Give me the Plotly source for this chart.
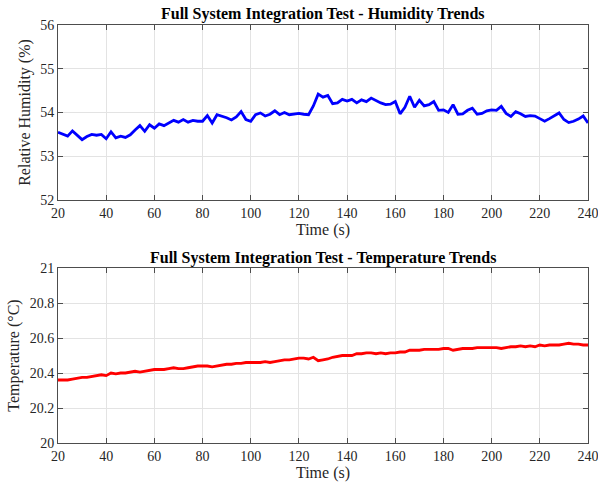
import plotly.graph_objects as go

time_s = list(range(20, 241, 2))

humidity = [
    53.55, 53.50, 53.46, 53.58, 53.48, 53.38, 53.45, 53.50, 53.48, 53.50,
    53.40, 53.56, 53.42, 53.46, 53.43, 53.49, 53.60, 53.70, 53.57, 53.72,
    53.64, 53.74, 53.70, 53.76, 53.82, 53.78, 53.84, 53.78, 53.82, 53.80,
    53.80, 53.93, 53.76, 53.95, 53.92, 53.88, 53.83, 53.90, 54.02, 53.84,
    53.80, 53.95, 53.99, 53.92, 53.96, 54.04, 53.95, 54.00, 53.95, 53.97,
    53.98, 53.96, 53.95, 54.15, 54.42, 54.35, 54.39, 54.20, 54.22, 54.30,
    54.26, 54.30, 54.22, 54.29, 54.25, 54.33, 54.27, 54.22, 54.18, 54.19,
    54.25, 53.97, 54.12, 54.37, 54.12, 54.28, 54.15, 54.18, 54.25, 54.05,
    54.06, 54.00, 54.18, 53.96, 53.97, 54.05, 54.10, 53.96, 53.98, 54.04,
    54.06, 54.05, 54.14, 53.98, 53.91, 54.02, 53.97, 53.91, 53.93, 53.92,
    53.86, 53.80, 53.86, 53.92, 53.99, 53.84, 53.77, 53.80, 53.85, 53.92,
    53.76,
]

temperature = [
    20.36, 20.36, 20.36, 20.365, 20.37, 20.375, 20.375, 20.38, 20.385, 20.39,
    20.385, 20.40, 20.395, 20.40, 20.40, 20.405, 20.41, 20.405, 20.41, 20.415,
    20.42, 20.42, 20.42, 20.425, 20.43, 20.425, 20.425, 20.43, 20.435, 20.44,
    20.44, 20.44, 20.435, 20.44, 20.445, 20.45, 20.45, 20.455, 20.455, 20.46,
    20.46, 20.46, 20.46, 20.465, 20.46, 20.465, 20.47, 20.475, 20.475, 20.48,
    20.485, 20.485, 20.48, 20.49, 20.47, 20.475, 20.48, 20.49, 20.495, 20.50,
    20.50, 20.50, 20.51, 20.51, 20.515, 20.515, 20.51, 20.515, 20.51, 20.515,
    20.515, 20.52, 20.52, 20.53, 20.53, 20.53, 20.535, 20.535, 20.535, 20.535,
    20.54, 20.54, 20.53, 20.535, 20.54, 20.54, 20.54, 20.545, 20.545, 20.545,
    20.545, 20.545, 20.54, 20.545, 20.55, 20.55, 20.555, 20.55, 20.555, 20.55,
    20.56, 20.555, 20.56, 20.56, 20.56, 20.565, 20.57, 20.565, 20.565, 20.56,
    20.56,
]

x_ticks = list(range(20, 241, 20))
hum_ticks = [52, 53, 54, 55, 56]
temp_ticks = [20, 20.2, 20.4, 20.6, 20.8, 21]
temp_tick_text = ["20", "20.2", "20.4", "20.6", "20.8", "21"]

FONT = "Liberation Serif, Times New Roman, serif"
AX = "#4d4d4d"
TXT = "#262626"
GRID = "#e3e3e3"
H = 484

fig = go.Figure()
fig.add_trace(go.Scatter(x=time_s, y=humidity, mode="lines",
                         line=dict(color="#0000ff", width=2.8),
                         xaxis="x", yaxis="y", showlegend=False))
fig.add_trace(go.Scatter(x=time_s, y=temperature, mode="lines",
                         line=dict(color="#ff0000", width=2.8),
                         xaxis="x2", yaxis="y2", showlegend=False))

common_x = dict(range=[20, 240], tickvals=x_ticks, ticks="inside", ticklen=5,
                tickcolor=AX, showline=True, linecolor=AX, linewidth=1,
                mirror="ticks", showgrid=True, gridcolor=GRID, zeroline=False,
                automargin=False, ticklabeloverflow="allow",
                tickfont=dict(family=FONT, size=14, color=TXT),
                title=dict(text="Time (s)", font=dict(family=FONT, size=16, color=TXT), standoff=2))
common_y = dict(ticks="inside", ticklen=5, tickcolor=AX, showline=True,
                linecolor=AX, linewidth=1, mirror="ticks", showgrid=True,
                gridcolor=GRID, zeroline=False, automargin=False,
                ticklabeloverflow="allow",
                tickfont=dict(family=FONT, size=14, color=TXT))

fig.update_layout(
    width=598, height=H,
    margin=dict(l=58, r=10, t=0, b=0),
    paper_bgcolor="white", plot_bgcolor="white",
    xaxis=dict(domain=[0, 1], anchor="y", **common_x),
    yaxis=dict(domain=[1 - 200 / H, 1 - 25 / H], anchor="x", range=[52, 56],
               tickvals=hum_ticks,
               title=dict(text="Relative Humidity (%)", font=dict(family=FONT, size=16, color=TXT), standoff=5),
               **common_y),
    xaxis2=dict(domain=[0, 1], anchor="y2", **common_x),
    yaxis2=dict(domain=[1 - 443 / H, 1 - 268 / H], anchor="x2", range=[20, 21],
                tickvals=temp_ticks, ticktext=temp_tick_text,
                title=dict(text="Temperature (°C)", font=dict(family=FONT, size=16, color=TXT), standoff=6),
                **common_y),
    annotations=[
        dict(text="<b>Full System Integration Test - Humidity Trends</b>",
             xref="paper", yref="paper", x=0.5, y=1 - 14 / H, xanchor="center", yanchor="middle",
             showarrow=False, font=dict(family=FONT, size=16, color="black")),
        dict(text="<b>Full System Integration Test - Temperature Trends</b>",
             xref="paper", yref="paper", x=0.5, y=1 - 258 / H, xanchor="center", yanchor="middle",
             showarrow=False, font=dict(family=FONT, size=16, color="black")),
    ],
)

fig.write_html("out.html")
